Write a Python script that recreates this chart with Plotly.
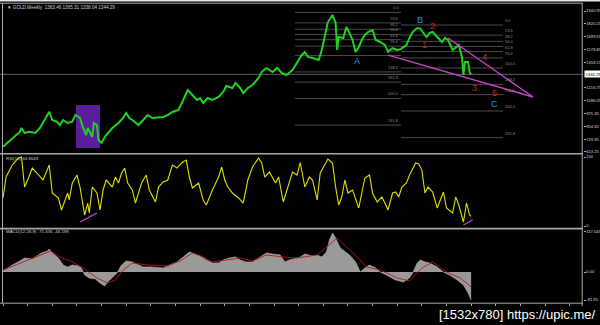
import plotly.graph_objects as go

# ---------------- data ----------------
weeks = [0, 5, 8, 11, 12, 14, 17, 21, 24, 27, 30, 32, 35, 37, 39, 42, 45, 47, 50, 52,
         54, 55, 58, 59, 61, 62, 64, 66, 68, 71, 75, 78, 80, 82, 84, 88, 91, 94, 97, 101,
         104, 107, 110, 114, 117, 120, 123, 126, 128, 130, 133, 136, 140, 143, 145, 149, 151, 154, 156, 159,
         162, 166, 168, 171, 175, 178, 181, 184, 188, 191, 194, 196, 198, 201, 205, 207, 209, 211, 214, 216,
         217, 218, 221, 223, 225, 227, 229, 231, 233, 235, 237, 240, 242, 245, 248, 250, 253, 256, 258, 260,
         262, 264, 266, 269, 271, 273, 275, 277, 279, 282, 285, 287, 289, 292, 294, 296, 298, 299, 300, 302,
         303, 304]
close = [663, 726, 773, 804, 839, 792, 804, 792, 839, 914, 992, 914, 898, 867, 914, 886, 898, 961, 933, 839,
         773, 839, 754, 886, 867, 726, 698, 754, 792, 839, 886, 933, 980, 933, 914, 867, 914, 961, 933, 940,
         943, 961, 990, 1008, 1103, 1197, 1150, 1103, 1121, 1074, 1121, 1103, 1131, 1178, 1234, 1216, 1263, 1216, 1168, 1216,
         1244, 1310, 1366, 1404, 1366, 1404, 1357, 1338, 1385, 1451, 1527, 1555, 1508, 1498, 1479, 1574, 1696, 1837, 1903, 1828,
         1574, 1696, 1687, 1790, 1734, 1668, 1555, 1602, 1668, 1715, 1743, 1762, 1668, 1649, 1621, 1555, 1592, 1574, 1580, 1602,
         1621, 1687, 1743, 1781, 1775, 1734, 1696, 1734, 1743, 1696, 1649, 1687, 1668, 1574, 1602, 1621, 1508, 1338, 1461, 1461,
         1366, 1344.29]

rsi_weeks = [0, 2, 6, 10, 12, 14, 16, 19, 22, 26, 30, 32, 36, 38, 42, 43, 45, 48, 50, 52,
             53, 55, 56, 58, 61, 63, 65, 67, 71, 73, 75, 77, 79, 81, 84, 86, 88, 90, 93, 95,
             99, 101, 104, 107, 110, 113, 116, 119, 121, 123, 127, 130, 132, 136, 140, 142, 144, 146, 149, 153,
             156, 159, 162, 166, 168, 170, 173, 177, 179, 182, 185, 188, 191, 193, 196, 199, 201, 204, 206, 209,
             211, 214, 216, 218, 220, 222, 224, 227, 229, 231, 233, 235, 238, 240, 243, 246, 248, 250, 253, 255,
             257, 259, 262, 264, 268, 270, 272, 274, 276, 279, 282, 284, 286, 288, 292, 294, 296, 299, 301, 303,
             304]
rsi_vals = [40.6, 71, 88.4, 98.5, 100, 56.5, 66.7, 84, 76.8, 66.7, 88.4, 47.8, 40.6, 23.2, 47.8, 37.7, 62.3, 73.9, 56.5, 27.5,
            15.9, 33.3, 18.8, 56.5, 47.8, 23.2, 52.2, 66.7, 56.5, 71, 62.3, 76.8, 84, 62.3, 52.2, 33.3, 49.3, 62.3, 73.9, 52.2,
            34.8, 56.5, 63.8, 66.7, 88.4, 84, 91.3, 95.6, 71, 55.1, 62.3, 37.7, 30.4, 52.2, 71, 85.5, 66.7, 56.5, 47.8, 40.6,
            33.3, 66.7, 85.5, 98.5, 91.3, 71, 78.2, 62.3, 71, 34.8, 56.5, 78.2, 73.9, 92, 56.5, 71, 66.7, 37.7, 76.8, 88.4,
            97.1, 91.3, 56.5, 30.4, 42, 66.7, 47.8, 52.2, 37.7, 26.1, 47.8, 69.6, 73.9, 47.8, 34.8, 42, 33.3, 23.2, 47.8, 49.3,
            42, 56.5, 62.3, 73.9, 91.3, 90, 81.1, 47.8, 56.5, 49.3, 26.1, 37.7, 49.3, 26.1, 18.8, 42, 30.4, 5.8, 33.3, 15.9,
            14]

macd_weeks = [0, 3, 6, 11, 14, 19, 22, 25, 29, 30, 32, 36, 39, 42, 45, 49, 51, 53, 56, 60,
              63, 66, 68, 71, 74, 77, 80, 84, 87, 91, 97, 104, 108, 113, 117, 121, 123, 128, 132, 136,
              140, 143, 147, 151, 154, 158, 162, 167, 171, 175, 180, 183, 186, 191, 193, 196, 201, 204, 207, 210,
              212, 214, 216, 219, 222, 225, 229, 232, 235, 238, 242, 245, 249, 255, 260, 264, 266, 269, 271, 274,
              277, 282, 286, 290, 295, 299, 302, 304]
macd_hist = [2.9, 11.7, 20.5, 32.2, 41, 38, 46.8, 55.6, 61.4, 67.3, 55.6, 41, 20.5, 14.6, 20.5, 17.6, 11.7, -8.8, -17.6, -20.5,
             -32.2, -41, -29.3, -14.6, -2.9, 20.5, 32.2, 29.3, 23.4, 14.6, 14.6, 11.7, 20.5, 29.3, 43.9, 58.5, 55.6, 46.8, 35.1, 26.3,
             26.3, 35.1, 41, 43.9, 35.1, 29.3, 29.3, 43.9, 55.6, 52.7, 49.7, 29.3, 35.1, 41, 43.9, 52.7, 46.8, 49.7, 43.9, 58.5,
             93.6, 114.1, 99.5, 70.2, 58.5, 49.7, 29.3, 0, 11.7, 20.5, 11.7, 0, -8.8, -23.4, -29.3, -17.6, -2.9, 26.3, 35.1, 29.3,
             26.3, 14.6, 0, -8.8, -23.4, -38, -61.4, -82]

signal_weeks = [0, 11, 19, 31, 37, 45, 52, 61, 68, 73, 78, 84, 94, 107, 115, 123, 130, 136, 145, 154,
                162, 171, 182, 191, 204, 212, 217, 223, 230, 236, 245, 256, 264, 272, 279, 288, 297, 304]
signal_vals = [5.9, 26.3, 41, 61.4, 43.9, 29.3, 11.7, -17.6, -32.2, -23.4, 5.9, 26.3, 20.5, 17.6, 32.2, 55.6, 43.9, 29.3, 35.1, 41,
               32.2, 49.7, 43.9, 41, 49.7, 79, 99.5, 73.1, 43.9, 14.6, 5.9, -17.6, -26.3, 11.7, 29.3, 0, -17.6, -43.9]

price_ticks = [1940.95, 1820.25, 1699.55, 1578.85, 1458.15, 1216.75, 1096.05, 975.35, 854.65, 733.95, 613.25]
rsi_ticks = [100, 0]
macd_ticks = [117.043, 0.0, -81.95]
macd_ticktext = ["117.043", "0.00", "-81.95"]
last_price = 1344.29

fib_ratios = ["0.0", "23.6", "38.2", "50.0", "61.8", "76.4", "100.0", "138.2", "161.8", "200.0", "261.8"]
fib1_levels = [1927, 1829, 1769, 1720, 1671, 1610, 1522, 1367, 1271, 1117, 866]
fib1_span = [189.6, 258.5]
fib2_levels = [1809, 1714, 1655, 1607, 1559, 1499, 1404, 1250, 1153, 999, 748]
fib2_span = [258.5, 324.7]

box_weeks = [47.4, 63.0]
box_prices = [650, 1056]

wedge_lower_w = [250, 344.2]
wedge_lower_p = [1526, 1131]
wedge_upper_w = [289, 344.2]
wedge_upper_p = [1687, 1131]
rsi_div1_w = [50, 61]
rsi_div1_v = [5.8, 18.8]
rsi_div2_w = [299, 305]
rsi_div2_v = [1.4, 8.7]

wave_labels = ["A", "B", "C"]
wave_w = [229.9, 270.8, 318.9]
wave_p = [1470, 1856, 1065]
count_labels = ["1", "2", "3", "4", "5"]
count_w = [273.4, 278.6, 305.9, 313.0, 318.9]
count_p = [1621, 1800, 1216, 1508, 1168]

# ---------------- figure ----------------
W, H = 600, 325
XR = 583 / W


def py(p):
    return 1 - p / H


fig = go.Figure()

fig.add_trace(go.Scatter(x=weeks, y=close, mode="lines", xaxis="x", yaxis="y",
                         line=dict(color="#22d022", width=2)))
fig.add_trace(go.Scatter(x=wedge_lower_w, y=wedge_lower_p, mode="lines", xaxis="x", yaxis="y",
                         line=dict(color="#cc44cc", width=1.4)))
fig.add_trace(go.Scatter(x=wedge_upper_w, y=wedge_upper_p, mode="lines", xaxis="x", yaxis="y",
                         line=dict(color="#cc44cc", width=1.4)))

fig.add_trace(go.Scatter(x=rsi_weeks, y=rsi_vals, mode="lines", xaxis="x", yaxis="y2",
                         line=dict(color="#e0e000", width=1.1)))
fig.add_trace(go.Scatter(x=rsi_div1_w, y=rsi_div1_v, mode="lines", xaxis="x", yaxis="y2",
                         line=dict(color="#cc44cc", width=1.3)))
fig.add_trace(go.Scatter(x=rsi_div2_w, y=rsi_div2_v, mode="lines", xaxis="x", yaxis="y2",
                         line=dict(color="#cc44cc", width=1.3)))

fig.add_trace(go.Scatter(x=macd_weeks, y=macd_hist, mode="lines", xaxis="x", yaxis="y3",
                         fill="tozeroy", fillcolor="#9a9a9a", line=dict(color="#b0b0b0", width=0.6)))
fig.add_trace(go.Scatter(x=signal_weeks, y=signal_vals, mode="lines", xaxis="x", yaxis="y3",
                         line=dict(color="#b01a1a", width=0.9)))

shapes = []
shapes.append(dict(type="rect", xref="x", yref="y", x0=box_weeks[0], x1=box_weeks[1],
                   y0=box_prices[0], y1=box_prices[1], fillcolor="#5a1e9c", line=dict(width=0), layer="below"))
for lv in fib1_levels:
    shapes.append(dict(type="line", xref="x", yref="y", x0=fib1_span[0], x1=fib1_span[1], y0=lv, y1=lv,
                       line=dict(color="#5e5e5e", width=0.8), layer="below"))
for lv in fib2_levels:
    shapes.append(dict(type="line", xref="x", yref="y", x0=fib2_span[0], x1=fib2_span[1], y0=lv, y1=lv,
                       line=dict(color="#5e5e5e", width=0.8), layer="below"))
shapes.append(dict(type="line", xref="paper", yref="y", x0=0, x1=XR, y0=last_price, y1=last_price,
                   line=dict(color="#7a7a7a", width=0.8), layer="below"))
frame_col = "#a8a8a8"
shapes.append(dict(type="rect", xref="paper", yref="paper", x0=0, x1=1, y0=py(1.6), y1=1,
                   fillcolor="#e8e8e8", line=dict(width=0)))
for p in [3.2, 153.8, 228.6, 303.2]:
    shapes.append(dict(type="line", xref="paper", yref="paper", x0=0, x1=XR, y0=py(p), y1=py(p),
                       line=dict(color=frame_col, width=1.6 if p in (153.8, 228.6) else 1)))
shapes.append(dict(type="line", xref="paper", yref="paper", x0=2.5 / W, x1=2.5 / W, y0=py(303.2), y1=py(3.2),
                   line=dict(color=frame_col, width=1)))
shapes.append(dict(type="line", xref="paper", yref="paper", x0=XR - 0.8 / W, x1=XR - 0.8 / W, y0=py(306), y1=py(3.2),
                   line=dict(color=frame_col, width=1)))

ann = []
tf = "Liberation Sans"
ann.append(dict(xref="paper", yref="paper", x=5 / W, y=py(8), xanchor="left", yanchor="middle", showarrow=False,
                text="▼ GOLD,Weekly  1363.46 1365.31 1338.04 1344.29", font=dict(family=tf, size=4.6, color="#d0d0d0")))
ann.append(dict(xref="paper", yref="paper", x=4 / W, y=py(158.5), xanchor="left", yanchor="middle", showarrow=False,
                text="RSI(14) 34.8043", font=dict(family=tf, size=4.4, color="#d0d0d0")))
ann.append(dict(xref="paper", yref="paper", x=4 / W, y=py(232), xanchor="left", yanchor="middle", showarrow=False,
                text="MACD(12,26,9) -71.436 -46.198", font=dict(family=tf, size=4.4, color="#d0d0d0")))
for lbl, lv in zip(fib_ratios, fib1_levels):
    ann.append(dict(xref="x", yref="y", x=fib1_span[1], y=lv, xanchor="right", yanchor="bottom", showarrow=False,
                    text=lbl, font=dict(family=tf, size=4, color="#8a8a8a")))
for lbl, lv in zip(fib_ratios, fib2_levels):
    ann.append(dict(xref="x", yref="y", x=fib2_span[1], y=lv, xanchor="left", yanchor="bottom", showarrow=False,
                    text=lbl, font=dict(family=tf, size=4, color="#8a8a8a")))
for t, xw, yp in zip(wave_labels, wave_w, wave_p):
    ann.append(dict(xref="x", yref="y", x=xw, y=yp, showarrow=False, text=t,
                    font=dict(family="Liberation Sans", size=9, color="#2a9ad8")))
for t, xw, yp in zip(count_labels, count_w, count_p):
    ann.append(dict(xref="x", yref="y", x=xw, y=yp, showarrow=False, text=t,
                    font=dict(family="Liberation Sans", size=9, color="#d81c1c")))
ann.append(dict(xref="paper", yref="y", x=XR + 0.5 / W, y=last_price, xanchor="left", yanchor="middle",
                showarrow=False, text="1344.29", bgcolor="#ffffff", borderpad=0.5,
                font=dict(family=tf, size=4.2, color="#000000")))
ann.append(dict(xref="paper", yref="paper", x=597 / W, y=py(314), xanchor="right", yanchor="middle",
                showarrow=False, text="[1532x780] https://upic.me/",
                font=dict(family="Liberation Sans Narrow, Liberation Sans", size=13, color="#ffffff")))

axfont = dict(family=tf, size=4.1, color="#d8d8d8")
common_y = dict(side="right", anchor="x", showgrid=False, zeroline=False, showline=False,
                ticks="outside", ticklen=1.5, tickcolor="#a8a8a8", tickfont=axfont, automargin=False,
                fixedrange=True)

fig.update_layout(
    template="none",
    width=W, height=H, autosize=False,
    margin=dict(l=0, r=0, t=0, b=0, pad=0),
    paper_bgcolor="#000000", plot_bgcolor="#000000",
    showlegend=False,
    xaxis=dict(domain=[0, XR], range=[-1.95, 376.65], anchor="y3", showgrid=False, zeroline=False,
               showticklabels=False, ticks="outside", ticklen=2, tickcolor="#a8a8a8", dtick=16, tick0=0,
               showline=False, automargin=False),
    yaxis=dict(domain=[py(153), py(4)], range=[603.3, 2006.9], tickvals=price_ticks,
               ticktext=[f"{v:.2f}" for v in price_ticks], **common_y),
    yaxis2=dict(domain=[py(228), py(155)], range=[-2.9, 102.9], tickvals=rsi_ticks,
                ticktext=[str(v) for v in rsi_ticks], **common_y),
    yaxis3=dict(domain=[py(303), py(229)], range=[-90.7, 125.8], tickvals=macd_ticks,
                ticktext=macd_ticktext, **common_y),
    shapes=shapes,
    annotations=ann,
)

fig.write_html("out.html")
